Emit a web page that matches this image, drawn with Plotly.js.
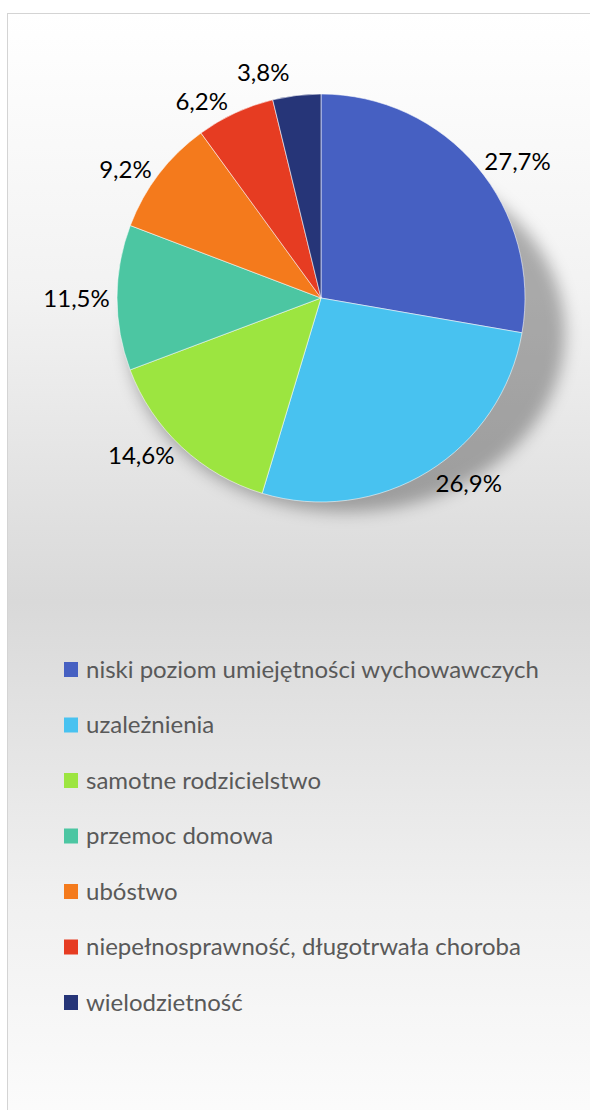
<!DOCTYPE html>
<html>
<head>
<meta charset="utf-8">
<script src="https://cdn.plot.ly/plotly-3.0.1.min.js"></script>
<style>
  html, body { margin: 0; padding: 0; width: 590px; height: 1110px; overflow: hidden; background: #ffffff; }
  #frame { position: absolute; left: 7px; top: 13px; width: 640px; height: 1130px;
           border: 1px solid #d4d4d4;
           background: linear-gradient(to bottom, #ffffff 0%, #f2f2f2 25%, #d9d9d9 52%, #f0f0f0 78%, #fdfdfd 100%); }
  #chart { position: absolute; left: 0; top: 0; width: 590px; height: 1110px; }
  .pielayer path.textline { display: none; }
  .layer-below .shapelayer path { filter: blur(8px); }
</style>
</head>
<body>
<div id="frame"></div>
<div id="chart"></div>
<script>
const categories = [
  "niski poziom umiejętności wychowawczych",
  "uzależnienia",
  "samotne rodzicielstwo",
  "przemoc domowa",
  "ubóstwo",
  "niepełnosprawność, długotrwała choroba",
  "wielodzietność"
];
const values = [27.7, 26.9, 14.6, 11.5, 9.2, 6.2, 3.8];
const colors = ["#4660C2", "#48C2F0", "#9CE540", "#4CC6A2", "#F47A1C", "#E63C22", "#263578"];

const W = 590, H = 1110;
const cx = 321, cy = 298, R = 204;

const pie = {
  type: "pie",
  labels: categories,
  values: values,
  sort: false,
  direction: "clockwise",
  rotation: 0,
  marker: { colors: colors, line: { color: "rgba(255,255,255,0.55)", width: 1 } },
  textposition: "outside",
  texttemplate: "%{value:.1f}%",
  textfont: { family: "Lato, sans-serif", size: 24, color: "#000000" },
  hoverinfo: "none",
  showlegend: false,
  domain: { x: [(cx - R) / W, (cx + R) / W], y: [(H - cy - R) / H, (H - cy + R) / H] }
};

const shapes = [], annotations = [];
// soft shadow behind the pie
const sx = cx + 25, sy = cy + 35, srx = R + 15, sry = R - 25;
shapes.push({ type: "circle", layer: "below", xref: "paper", yref: "paper",
  x0: (sx - srx) / W, x1: (sx + srx) / W, y0: 1 - (sy + sry) / H, y1: 1 - (sy - sry) / H,
  fillcolor: "rgba(0,0,0,0.30)", line: { width: 0 } });

const legendTop = 669, legendStep = 55.5, legendX = 64, sq = 14;
categories.forEach((c, i) => {
  const yc = legendTop + i * legendStep;
  shapes.push({ type: "rect", xref: "paper", yref: "paper",
    x0: legendX / W, x1: (legendX + sq) / W,
    y0: 1 - (yc + 8) / H, y1: 1 - (yc - 7) / H,
    fillcolor: colors[i], line: { width: 0 } });
  annotations.push({ xref: "paper", yref: "paper", x: (legendX + sq + 6) / W, y: 1 - (yc - 1) / H,
    xanchor: "left", yanchor: "middle", showarrow: false, text: c,
    font: { family: "Lato, sans-serif", size: 24, color: "#595959" } });
});

const layout = {
  width: W, height: H,
  margin: { l: 0, r: 0, t: 0, b: 0 },
  paper_bgcolor: "rgba(0,0,0,0)",
  plot_bgcolor: "rgba(0,0,0,0)",
  separators: ", ",
  shapes: shapes,
  annotations: annotations
};

Plotly.newPlot("chart", [pie], layout, { displayModeBar: false, staticPlot: true });
</script>
</body>
</html>
